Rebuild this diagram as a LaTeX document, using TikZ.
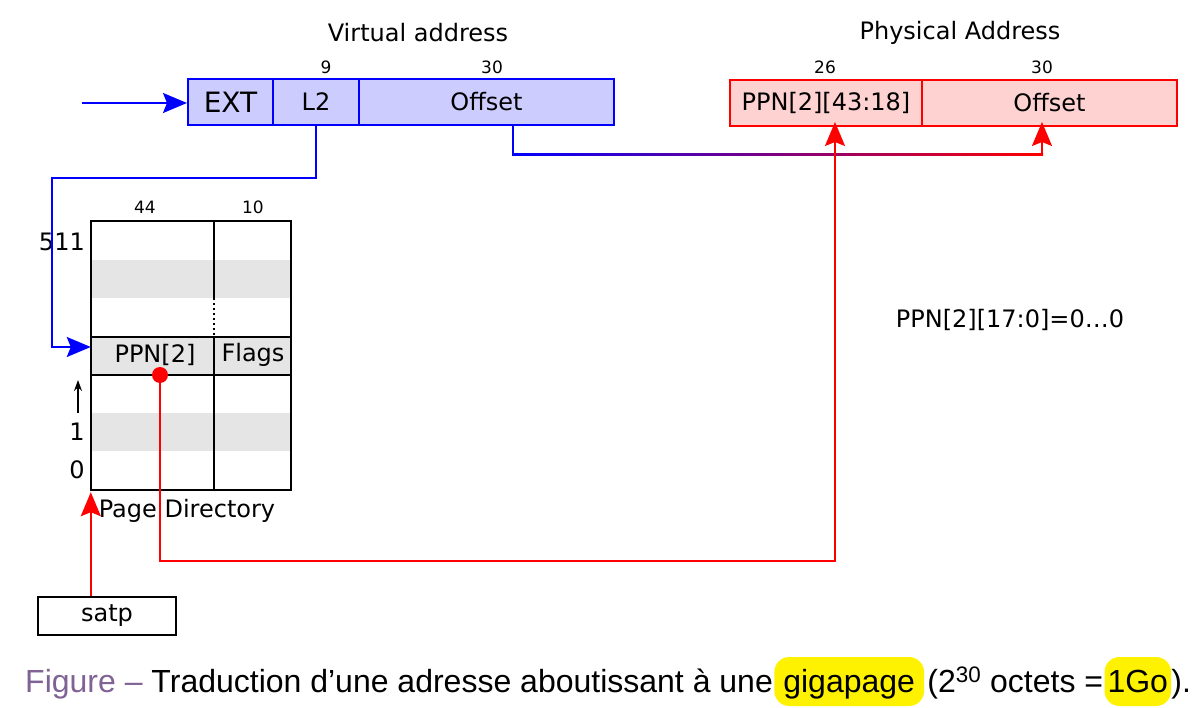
\documentclass[tikz,border=0pt]{standalone}
\usepackage{fontspec}
\setmainfont{DejaVu Sans}
\newfontfamily\capfont{Liberation Sans}
\usetikzlibrary{arrows.meta,calc}
\definecolor{vfill}{RGB}{204,204,255}
\definecolor{pfill}{RGB}{255,210,210}
\definecolor{stripe}{RGB}{229,229,229}
\definecolor{mauve}{RGB}{128,98,148}
\begin{document}
\begin{tikzpicture}[x=1pt,y=-1pt,
  every node/.style={font=\fontsize{24}{28}\selectfont},
  vcell/.style={draw=blue,fill=vfill,line width=2pt,minimum height=46pt,inner sep=0},
  pcell/.style={draw=red,fill=pfill,line width=2pt,minimum height=46pt,inner sep=0},
  small/.style={font=\fontsize{17}{20}\selectfont},
  blueln/.style={draw=blue,line width=2pt},
  redln/.style={draw=red,line width=2pt},
  bigtip/.style={-{Stealth[length=24pt,width=20pt,inset=4pt]}},
  hl/.style={fill=yellow,rounded corners=15pt,inner xsep=9pt,inner ysep=8pt,text height=27pt,text depth=6pt,anchor=base west},
  captxt/.style={inner sep=0pt,anchor=base west,font=\capfont\fontsize{32}{36}\selectfont}
]
\useasboundingbox (0,0) rectangle (1200,708);

% titles
\node (vt) at (418,33) {Virtual address};
\node (pt) at (960,33) {Physical Address};

% virtual address
\node[vcell,minimum width=85pt,font=\fontsize{28}{32}\selectfont] (ext) at (230.5,102) {EXT};
\node[vcell,minimum width=86pt] (l2) at (316,102) {L2};
\node[vcell,minimum width=255pt] (voff) at (486.5,102) {Offset};
\node[small] (n9) at (326,67) {9};
\node[small] (n30a) at (492,67) {30};
\coordinate (vin) at (82,103);
\draw[blueln,bigtip] (vin) -- (ext.west |- vin);

% physical address
\node[pcell,minimum width=192pt] (pppn) at (826,103) {PPN[2][43:18]};
\node[pcell,minimum width=255pt] (poff) at (1049.5,103) {Offset};
\node[small] (n26) at (825,67) {26};
\node[small] (n30b) at (1042,67) {30};

% page directory
\node[minimum width=200pt,minimum height=269pt,inner sep=0] (pd) at (191,355.5) {};
\fill[stripe] (91,260) rectangle (291,298);
\fill[stripe] (91,413) rectangle (291,451);
\node[fill=stripe,minimum width=200pt,minimum height=38pt,inner sep=0] (row) at (191,356) {};
\draw[line width=2pt] (row.north west) -- (row.north east);
\draw[line width=2pt] (row.south west) -- (row.south east);
\draw[line width=2pt] (214,221) -- (214,298);
\draw[line width=2pt,dash pattern=on 2pt off 3pt] (214,298) -- (214,337);
\draw[line width=2pt] (214,337) -- (214,490);
\draw[line width=2.5pt] (pd.north west) rectangle (pd.south east);
\node (ppn) at (155,355) {PPN[2]};
\node (flags) at (253,355) {Flags};
\node[small] (n44) at (145,207) {44};
\node[small] (n10) at (253,207) {10};
\node[anchor=east,inner sep=0] (i511) at (85,242) {511};
\node (i1) at (77,432) {1};
\node (i0) at (77,470) {0};
\coordinate (ua) at (78,413);
\coordinate (ub) at (78,380);
\draw[line width=1.5pt,-{Stealth[length=11pt,width=8pt]}] (ua) -- (ub);
\node (pdl) at (187,511) {Page Directory};

% satp
\node[draw,line width=2pt,minimum width=138pt,minimum height=38pt,inner sep=0] (satp) at (107,616) {satp};
\draw[redln,bigtip] (satp.north -| pd.south west) -- ([yshift=-2pt]pd.south west);

% L2 -> page directory
\coordinate (b1) at (52,178);
\draw[blueln,bigtip] (l2.south) |- (b1) |- ([yshift=9pt]pd.west |- row.west);

% offset -> physical offset (blue to red)
\coordinate (g1) at (513,155);
\coordinate (g2) at (1042,155);
\draw[blueln] (voff.south -| g1) -- ([yshift=-1pt]g1);
\shade[left color=blue,right color=red] ([shift={(-1,-1)}]g1) rectangle ([shift={(1,1)}]g2);
\draw[redln,bigtip] ([yshift=-1pt]g2) -- ([yshift=5pt]g2 |- poff.south);

% PPN[2] -> physical PPN
\node[circle,fill=red,minimum size=16pt,inner sep=0] (dot) at (160,375) {};
\coordinate (r1) at (835,561);
\draw[redln,bigtip] (dot.center) |- (r1) -- ([yshift=5pt]r1 |- pppn.south);

\node (note) at (1010,320) {PPN[2][17:0]=0…0};

% caption
\node[captxt] (c1) at (25,692) {{\color{mauve}Figure –} Traduction d’une adresse aboutissant à une};
\begin{scope}[every node/.style={font=\capfont\fontsize{32}{36}\selectfont}]
\node[hl] (c2) at ([xshift=1pt]c1.base east) {gigapage};
\node[captxt] (c3) at ([xshift=3pt]c2.base east) {(2\textsuperscript{30} octets =};
\node[hl,inner xsep=3pt] (c4) at ([xshift=1pt]c3.base east) {1Go};
\node[captxt] (c5) at (c4.base east) {).};
\end{scope}
\end{tikzpicture}
\end{document}
